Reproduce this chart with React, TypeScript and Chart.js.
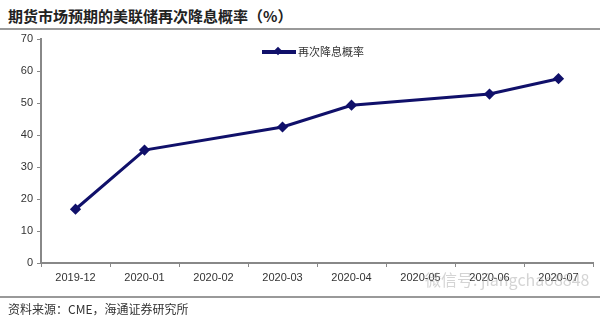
import React, { useEffect, useRef } from "react";
import { Chart, registerables } from "chart.js";

Chart.register(...registerables);

const categories = ["2019-12", "2020-01", "2020-02", "2020-03", "2020-04", "2020-05", "2020-06", "2020-07"];
const probability: (number | null)[] = [16.8, 35.3, null, 42.5, 49.3, null, 52.8, 57.6];
const seriesName = "再次降息概率";
const titleText = "期货市场预期的美联储再次降息概率（%）";
const sourceText = "资料来源：CME，海通证券研究所";
const watermarkText = "微信号: jiangchao8848";

const NAVY = "#10106a";

export default function App() {
  const ref = useRef<HTMLCanvasElement | null>(null);
  useEffect(() => {
    document.body.style.margin = "0";
    const ctx = ref.current!;
    const chart = new Chart(ctx, {
      type: "line",
      data: {
        labels: categories,
        datasets: [
          {
            label: seriesName,
            data: probability,
            borderColor: NAVY,
            backgroundColor: NAVY,
            borderWidth: 3,
            pointStyle: "rectRot",
            pointRadius: 3.5,
            pointBackgroundColor: NAVY,
            pointBorderColor: NAVY,
            spanGaps: true,
            tension: 0,
          },
        ],
      },
      options: {
        animation: false,
        responsive: false,
        maintainAspectRatio: false,
        layout: { padding: { left: 0, top: 39, right: 3, bottom: 34 } },
        plugins: {
          legend: { display: false },
          tooltip: { enabled: false },
        },
        scales: {
          x: {
            offset: true,
            grid: {
              offset: true,
              drawOnChartArea: false,
              tickLength: 4,
              color: "#888",
            },
            border: { color: "#888", width: 2 },
            ticks: {
              color: "#333",
              font: { family: "Arial, 'Liberation Sans'", size: 11 },
              maxRotation: 0,
              padding: 4,
            },
            afterFit: (s: any) => {
              s.height = 22;
            },
          },
          y: {
            min: 0,
            max: 70,
            ticks: {
              stepSize: 10,
              color: "#333",
              font: { family: "Arial, 'Liberation Sans'", size: 11 },
              padding: 4,
            },
            grid: { drawOnChartArea: false, tickLength: 4, color: "#888" },
            border: { color: "#888", width: 2 },
            afterFit: (s: any) => {
              s.width = 41;
            },
          },
        },
      },
    });
    return () => chart.destroy();
  }, []);

  return (
    <div style={{ position: "relative", width: 600, height: 319, background: "#fff", overflow: "hidden" }}>
      <div
        style={{
          position: "absolute",
          left: 8,
          top: 6,
          fontFamily: "'Noto Sans CJK SC'",
          fontWeight: 700,
          fontSize: 15,
          color: "#222",
          lineHeight: "20px",
          whiteSpace: "nowrap",
        }}
      >
        {titleText}
      </div>
      <div style={{ position: "absolute", left: 0, top: 28, width: 600, height: 2, background: "#999" }} />
      <canvas ref={ref} width={600} height={319} style={{ position: "absolute", left: 0, top: 0 }} />
      {/* legend */}
      <div style={{ position: "absolute", left: 262, top: 50, width: 34, height: 4, background: NAVY }} />
      <div
        style={{
          position: "absolute",
          left: 275,
          top: 48,
          width: 6,
          height: 6,
          background: NAVY,
          transform: "rotate(45deg)",
        }}
      />
      <div
        style={{
          position: "absolute",
          left: 298,
          top: 43,
          fontFamily: "'Noto Sans CJK SC'",
          fontSize: 11,
          color: "#333",
          lineHeight: "16px",
          whiteSpace: "nowrap",
        }}
      >
        {seriesName}
      </div>
      <div
        style={{
          position: "absolute",
          left: 425,
          top: 267,
          fontFamily: "'Noto Sans CJK SC'",
          fontSize: 16,
          color: "rgba(170,170,170,0.5)",
          whiteSpace: "nowrap",
        }}
      >
        {watermarkText}
      </div>
      <div style={{ position: "absolute", left: 0, top: 296, width: 600, height: 1.5, background: "#999" }} />
      <div
        style={{
          position: "absolute",
          left: 8,
          top: 300,
          fontFamily: "'Noto Sans CJK SC'",
          fontSize: 12,
          color: "#333",
          lineHeight: "18px",
          whiteSpace: "nowrap",
        }}
      >
        {sourceText}
      </div>
    </div>
  );
}
